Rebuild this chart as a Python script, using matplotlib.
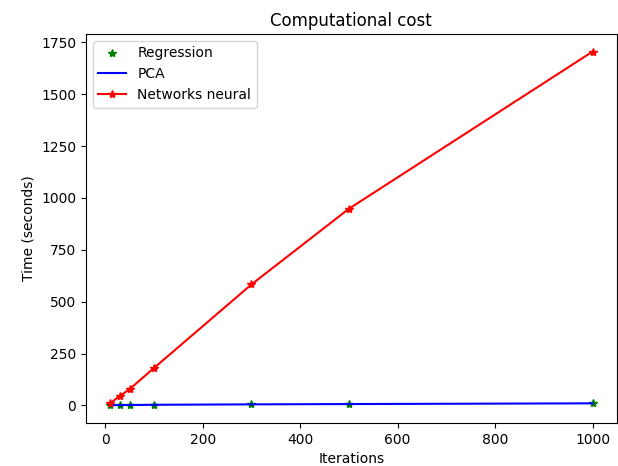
import matplotlib.pyplot as plt

iterations = [10, 30, 50, 100, 300, 500, 1000]
regression_time = [0.5, 0.8, 1.2, 2.0, 5.0, 7.5, 12.0]
pca_time = [1.0, 1.5, 2.0, 3.0, 5.0, 6.5, 10.0]
nn_time = [10, 45, 78, 180, 583, 948, 1706]

fig = plt.figure(figsize=(6.18, 4.66), dpi=100)
ax = fig.add_axes([0.139, 0.0923, 0.859, 0.835])

ax.plot(iterations, regression_time, 'g*', label='Regression')
ax.plot(iterations, pca_time, 'b-', label='PCA')
ax.plot(iterations, nn_time, 'r*-', label='Networks neural')

ax.set_title('Computational cost')
ax.set_xlabel('Iterations')
ax.set_ylabel('Time (seconds)')
ax.legend(loc='upper left')

plt.savefig('out.png', dpi=100)
